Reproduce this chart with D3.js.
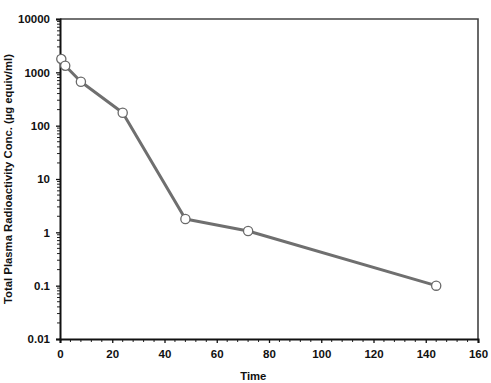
<!DOCTYPE html>
<html>
<head>
<meta charset="utf-8">
<script src="https://cdn.jsdelivr.net/npm/d3@7"></script>
<style>
  body { margin: 0; background: #fff; }
  svg { display: block; }
  .tick-label { font-family: "Liberation Sans", Arial, sans-serif; font-weight: bold; font-size: 11.5px; fill: #111; }
  .axis-title { font-family: "Liberation Sans", Arial, sans-serif; font-weight: bold; font-size: 11.3px; fill: #111; }
</style>
</head>
<body>
<svg id="chart"></svg>
<script>
// time points (h) and total plasma radioactivity (µg equiv/ml)
const times = [0.5, 2, 8, 24, 48, 72, 144];
const concs = [1780, 1330, 667, 175, 1.78, 1.06, 0.1];
const xTicks = [0, 20, 40, 60, 80, 100, 120, 140, 160];
const yTicks = [0.01, 0.1, 1, 10, 100, 1000, 10000];

const W = 491, H = 383;
const margin = { top: 19, right: 13, bottom: 44, left: 60 },
    width = W - margin.left - margin.right,
    height = H - margin.top - margin.bottom;

const svg = d3.select("#chart")
    .attr("width", W)
    .attr("height", H)
    .append("g")
    .attr("transform", `translate(${margin.left},${margin.top})`);

const x = d3.scaleLinear().domain([0, 160]).range([0, width]);
const y = d3.scaleLog().domain([0.01, 10000]).range([height, 0]);

// frame on top and right
svg.append("path")
    .attr("d", `M0,0H${width}V${height}`)
    .attr("fill", "none")
    .attr("stroke", "#444")
    .attr("stroke-width", 1.6);

// x minor ticks (every 4)
const xMinor = d3.range(0, 161, 4).filter(v => v % 20 !== 0);
svg.append("g")
    .attr("transform", `translate(0,${height})`)
    .selectAll("line")
    .data(xMinor)
    .enter().append("line")
    .attr("x1", d => x(d)).attr("x2", d => x(d))
    .attr("y1", 0).attr("y2", 3)
    .attr("stroke", "#222").attr("stroke-width", 1);

const xAxis = svg.append("g")
    .attr("transform", `translate(0,${height})`)
    .call(d3.axisBottom(x).tickValues(xTicks).tickSize(4).tickPadding(7).tickFormat(d3.format("d")));
xAxis.select(".domain").attr("stroke", "#111").attr("stroke-width", 2);
xAxis.selectAll(".tick line").attr("stroke", "#111").attr("stroke-width", 1.3);
xAxis.selectAll("text").attr("class", "tick-label");

// y minor ticks (2..9 each decade)
const yMinor = [];
yTicks.slice(0, -1).forEach(d => { for (let k = 2; k < 10; k++) yMinor.push(d * k); });
svg.append("g")
    .selectAll("line")
    .data(yMinor)
    .enter().append("line")
    .attr("x1", -3).attr("x2", 0)
    .attr("y1", d => y(d)).attr("y2", d => y(d))
    .attr("stroke", "#222").attr("stroke-width", 1);

const yAxis = svg.append("g")
    .call(d3.axisLeft(y).tickValues(yTicks).tickSize(4).tickPadding(6)
        .tickFormat(d => d < 1 ? String(d) : d3.format("d")(d)));
yAxis.select(".domain").attr("stroke", "#111").attr("stroke-width", 2);
yAxis.selectAll(".tick line").attr("stroke", "#111").attr("stroke-width", 1.3);
yAxis.selectAll("text").attr("class", "tick-label");

const pts = times.map((t, i) => ({ t, c: concs[i] }));

svg.append("path")
    .datum(pts)
    .attr("fill", "none")
    .attr("stroke", "#6f6f6f")
    .attr("stroke-width", 3)
    .attr("stroke-linejoin", "round")
    .attr("d", d3.line().x(d => x(d.t)).y(d => y(d.c)));

svg.selectAll(".pt")
    .data(pts)
    .enter().append("circle")
    .attr("class", "pt")
    .attr("cx", d => x(d.t))
    .attr("cy", d => y(d.c))
    .attr("r", 4.6)
    .attr("fill", "#fff")
    .attr("stroke", "#6a6a6a")
    .attr("stroke-width", 1.3);

svg.append("text")
    .attr("class", "axis-title")
    .attr("text-anchor", "middle")
    .attr("x", x(74))
    .attr("y", height + margin.bottom - 3)
    .text("Time");

svg.append("text")
    .attr("class", "axis-title")
    .attr("text-anchor", "middle")
    .attr("transform", `translate(${-margin.left + 12},${height / 2}) rotate(-90)`)
    .text("Total Plasma Radioactivity Conc. (µg equiv/ml)");
</script>
</body>
</html>
